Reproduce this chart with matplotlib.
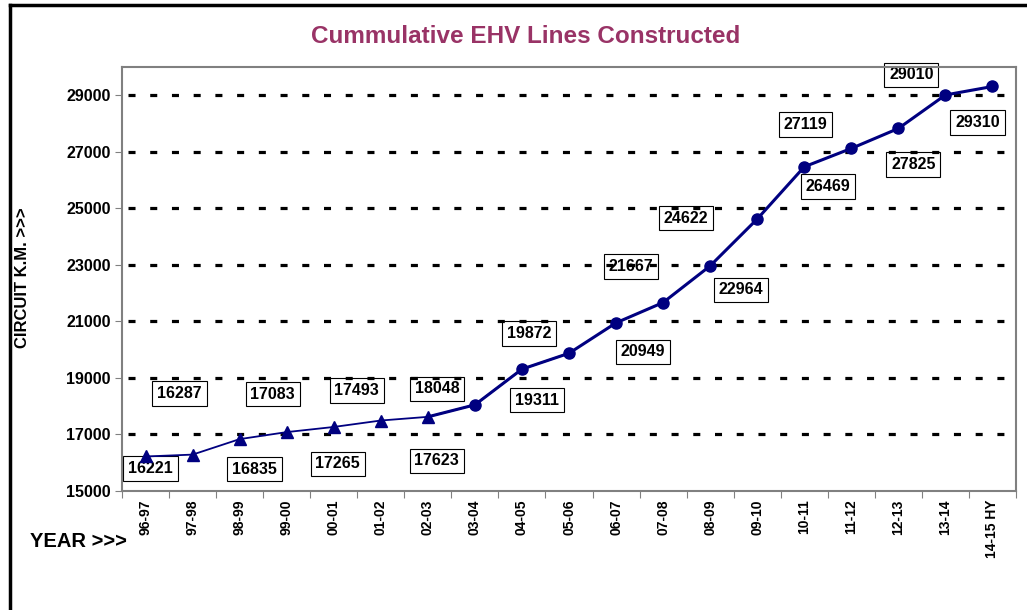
import numpy as np
import matplotlib
matplotlib.use("Agg")
import matplotlib.pyplot as plt
from matplotlib.lines import Line2D

plt.rcParams['font.family'] = ['Liberation Sans', 'DejaVu Sans']
plt.rcParams['font.weight'] = 'bold'

years = ['96-97', '97-98', '98-99', '99-00', '00-01', '01-02', '02-03', '03-04',
         '04-05', '05-06', '06-07', '07-08', '08-09', '09-10', '10-11', '11-12',
         '12-13', '13-14', '14-15 HY']
ckm = [16221, 16287, 16835, 17083, 17265, 17493, 17623, 18048, 19311, 19872,
       20949, 21667, 22964, 24622, 26469, 27119, 27825, 29010, 29310]

# label offsets in pixels (dx, dy up)
lab_off = [(5, -12), (-13, 61), (15, -30), (-14, 38), (4, -37), (-24, 30),
           (9, -44), (-38, 16), (15, -31), (-40, 20), (27, -29), (-32, 36),
           (31, -24), (-71, 1), (24, -20), (-46, 24), (15, -36), (-34, 20),
           (-15, -36)]

navy = '#000080'
x = np.arange(len(years))

fig = plt.figure(figsize=(10.27, 6.10), dpi=100)
ax = fig.add_axes([0.1188, 0.1951, 0.8705, 0.6951])

ax.set_xlim(-0.5, len(years) - 0.5)
ax.set_ylim(15000, 30000)

# dashed grid (sits over the labels, as in the original)
for g in range(17000, 30000, 2000):
    ln = ax.axhline(g, color='black', lw=2.3, xmin=0.007, xmax=0.992, zorder=3)
    ln.set_dashes([2.2, 4.6])

# first series (triangles) and second (circles)
ax.plot(x[:10], ckm[:10], color=navy, lw=1.3, zorder=4)
ax.plot(x[:7], ckm[:7], color=navy, lw=0, marker='^', ms=9, zorder=5)
ax.plot(x[6:], ckm[6:], color=navy, lw=2.2, zorder=4)
ax.plot(x[7:], ckm[7:], color=navy, lw=0, marker='o', ms=8, zorder=5)

for i, v in enumerate(ckm):
    ax.annotate(str(v), (x[i], v), xytext=lab_off[i], textcoords='offset pixels',
                ha='center', va='center', fontsize=11.5, fontweight='bold', zorder=2,
                bbox=dict(boxstyle='square,pad=0.3', fc='white', ec='black', lw=0.8))

ax.set_yticks(range(15000, 30000, 2000))
ax.set_xticks(np.arange(-0.5, len(years), 1.0), minor=False)
ax.set_xticklabels([])
ax.set_xticks(x, minor=True)
ax.set_xticklabels(years, minor=True, rotation=90, fontsize=10, fontweight='bold')
ax.tick_params(axis='x', which='minor', length=0, pad=6)
ax.tick_params(axis='x', which='major', length=5, color='#808080')
ax.tick_params(axis='y', length=5, color='#808080', labelsize=11.5, pad=3)
for s in ax.spines.values():
    s.set_color('#808080')
    s.set_linewidth(1.5)

fig.text(0.512, 0.94, 'Cummulative EHV Lines Constructed', ha='center', va='center',
         fontsize=17.5, fontweight='bold', color='#993366')
fig.text(0.022, 0.545, 'CIRCUIT K.M. >>>', rotation=90, ha='center', va='center',
         fontsize=12, fontweight='bold')
fig.text(0.029, 0.113, 'YEAR >>>', ha='left', va='center', fontsize=14.5, fontweight='bold')

# outer frame (left and top)
fig.add_artist(Line2D([0.0098, 0.0098], [0, 0.992], color='black', lw=2.5, transform=fig.transFigure))
fig.add_artist(Line2D([0.0098, 1.0], [0.992, 0.992], color='black', lw=2.5, transform=fig.transFigure))

fig.savefig('out.png', dpi=100)
